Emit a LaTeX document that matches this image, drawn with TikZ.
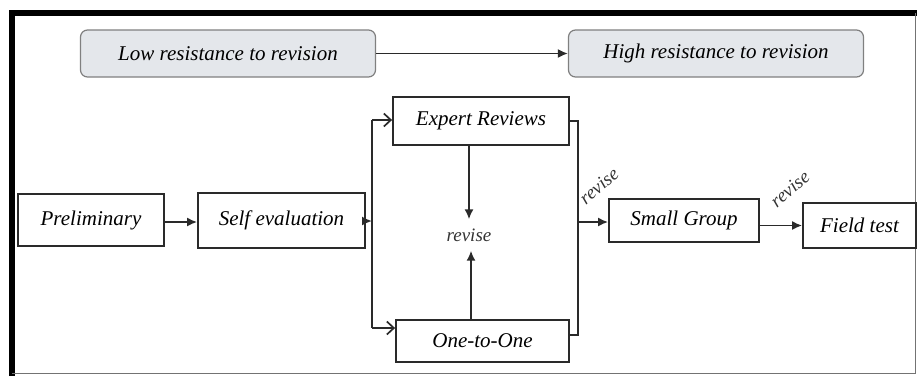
\documentclass[tikz,border=0pt]{standalone}
\usepackage{fontspec}
\setmainfont{Liberation Serif}
\usetikzlibrary{arrows.meta}
\definecolor{levelfill}{HTML}{E4E7EB}
\definecolor{linegray}{HTML}{2A2A2A}

\begin{document}
\begin{tikzpicture}[x=1pt, y=-1pt,
    box/.style={draw=linegray, line width=1.8pt, fill=white, inner sep=0pt,
        font=\fontsize{21}{25}\selectfont\itshape},
    level/.style={box, draw=black!50, line width=1.2pt, fill=levelfill, rounded corners=7pt,
        minimum width=295pt, minimum height=47pt},
    link/.style={draw=linegray, line width=1.7pt},
    tip/.style={link, -{Latex[length=10pt,width=9pt]}},
    opentip/.style={link, -{Straight Barb[length=7pt,width=13pt]}},
    revlabel/.style={font=\fontsize{19}{23}\selectfont\itshape, text=black!80}]
    \useasboundingbox (0,0) rectangle (917,376);

    % Frame
    \draw[line width=6pt] (12,376) -- (12,13) -- (917,13);
    \draw[black!55, line width=1pt] (12,373) -- (915,373) -- (915,13);

    % Resistance scale
    \node[level] (low) at (228,53.5) {Low resistance to revision};
    \node[level] (high) at (716,53.5) {High resistance to revision};
    \draw[tip] (low.east) -- (high.west);

    % Stages
    \node[box, minimum width=146pt, minimum height=52pt] (prelim) at (91,220) {Preliminary};
    \node[box, minimum width=167pt, minimum height=55pt] (self) at (281.5,220.5) {Self evaluation};
    \node[box, minimum width=176pt, minimum height=48pt] (expert) at (481,121) {Expert Reviews};
    \node[box, minimum width=173pt, minimum height=42pt] (one) at (482.5,341) {One-to-One};
    \node[box, minimum width=150pt, minimum height=43pt] (small) at (684,220.5) {Small Group};
    \node[box, minimum width=113pt, minimum height=45pt] (field) at (859.5,225.5) {Field test};

    % Revise labels
    \node[revlabel, minimum height=31pt] (rev) at (469,235) {revise};
    \node[revlabel, rotate=40] (rev1) at (599,186) {revise};
    \node[revlabel, rotate=40] (rev2) at (790,189) {revise};

    % Left bracket
    \coordinate (lt) at (372,120);
    \coordinate (lm) at (372,221);
    \coordinate (lb) at (372,328);
    \draw[tip] (prelim.east |- 0,222) -- (self.west |- 0,222);
    \draw[tip] (self.east |- lm) -- (lm);
    \draw[link] (lt) -- (lb);
    \draw[opentip] (lt) -- (lt -| expert.west);
    \draw[opentip] (lb) -- (lb -| one.west);

    % Expert and one-to-one
    \draw[tip] (rev.north |- expert.south) -- (rev.north);
    \draw[tip] ([xshift=2pt]rev.south |- one.north) -- ([xshift=2pt]rev.south);

    % Right bracket
    \coordinate (rt) at (578,121);
    \coordinate (rm) at (578,222);
    \coordinate (rb) at (578,335);
    \draw[link] (expert.east) -- (rt) -- (rb) -- (rb -| one.east);
    \draw[tip] (rm) -- (rm -| small.west);
    \draw[tip] (small.east |- field) -- (field.west);
\end{tikzpicture}
\end{document}
